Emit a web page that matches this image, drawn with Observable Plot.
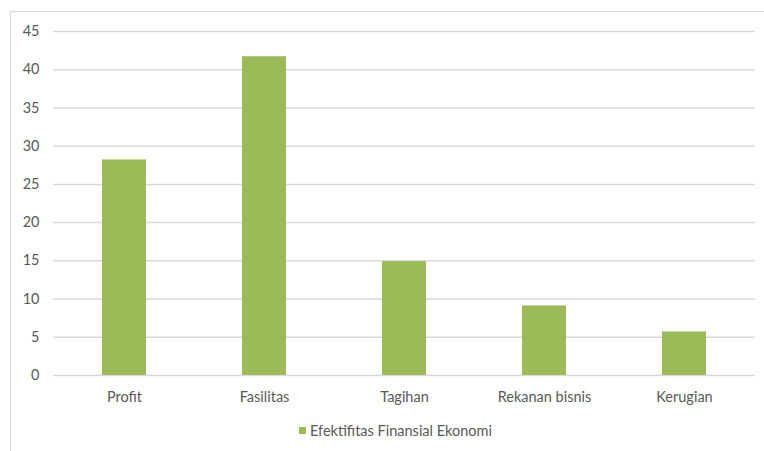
<!DOCTYPE html>
<html>
<head>
<meta charset="utf-8">
<script src="https://cdn.jsdelivr.net/npm/d3@7"></script>
<script src="https://cdn.jsdelivr.net/npm/@observablehq/plot@0.6"></script>
<style>
  html, body { margin: 0; padding: 0; background: #fff; }
  #wrap { position: relative; width: 764px; height: 451px; overflow: hidden; font-family: Lato, "Open Sans", sans-serif; }
  #frame { position: absolute; left: 10px; top: 11px; width: 760px; height: 450px; border-top: 1.5px solid #d9d9d9; border-left: 1.5px solid #d9d9d9; box-sizing: border-box; }
  #chart { position: absolute; left: 0; top: 0; }
  #legend { position: absolute; left: 0; top: 422px; width: 764px; height: 20px; font-size: 14.5px; color: #595959; }
  #legend .item { position: absolute; left: 299px; top: 0; display: flex; align-items: center; white-space: nowrap; }
  #legend .sw { width: 7px; height: 7px; background: #9bbb59; margin-right: 4px; }
</style>
</head>
<body>
<div id="wrap">
  <div id="frame"></div>
  <div id="chart"></div>
  <div id="legend"><div class="item"><span class="sw"></span><span id="legtext"></span></div></div>
</div>
<script>
const categories = ["Profit", "Fasilitas", "Tagihan", "Rekanan bisnis", "Kerugian"];
const values = [28.2, 41.7, 14.9, 9.1, 5.7];
const seriesName = "Efektifitas Finansial Ekonomi";
const yTicks = [0, 5, 10, 15, 20, 25, 30, 35, 40, 45];

const data = categories.map((c, i) => ({category: c, value: values[i]}));

const chart = Plot.plot({
  width: 764,
  height: 415,
  marginLeft: 53,
  marginRight: 9,
  marginTop: 31,
  marginBottom: 40,
  style: {fontFamily: "Lato, 'Open Sans', sans-serif", fontSize: "14.5px", color: "#595959", background: "transparent"},
  x: {domain: categories, paddingInner: 0.686, paddingOuter: 0.343, label: null, tickSize: 0, tickPadding: 16},
  y: {domain: [0, 45], ticks: yTicks, label: null, tickSize: 0, tickPadding: 14},
  marks: [
    Plot.ruleY(yTicks, {stroke: "#d9d9d9", strokeWidth: 1.5}),
    Plot.barY(data, {x: "category", y: "value", fill: "#9bbb59"}),
    Plot.axisY({ticks: yTicks, tickSize: 0, tickPadding: 14, label: null}),
    Plot.axisX({tickSize: 0, tickPadding: 16, label: null})
  ]
});
document.getElementById("chart").appendChild(chart);
document.getElementById("legtext").textContent = seriesName;
</script>
</body>
</html>
